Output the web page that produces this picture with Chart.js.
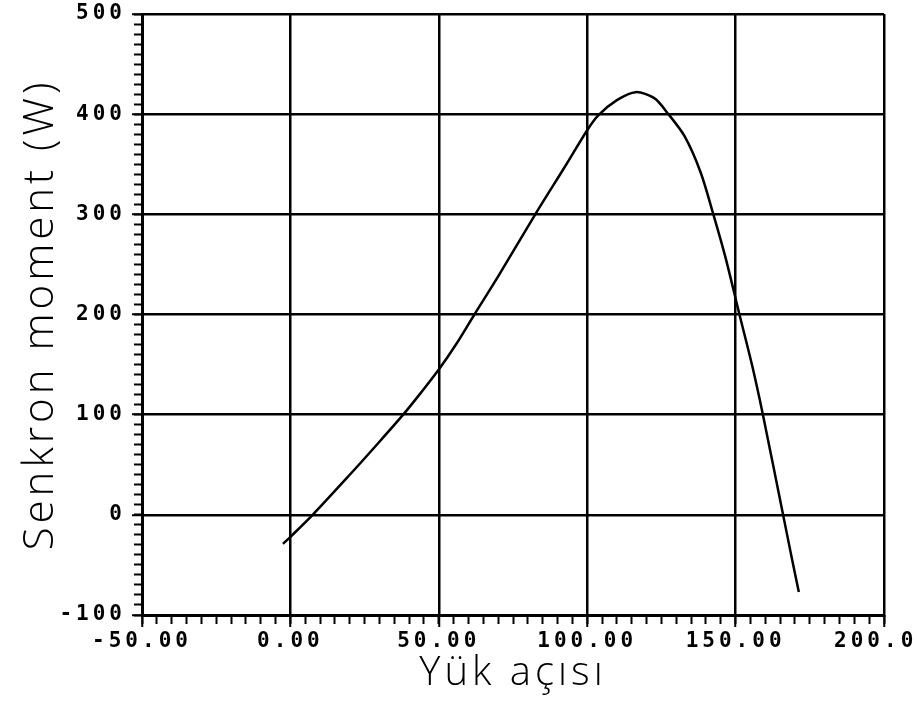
<!DOCTYPE html>
<html>
<head>
<meta charset="utf-8">
<script src="https://cdn.jsdelivr.net/npm/chart.js@4/dist/chart.umd.min.js"></script>
<style>
  html, body { margin: 0; background: #fff; }
</style>
</head>
<body>
<canvas id="moment-canvas" width="917" height="702"></canvas>
<script>
// points
const angle  = [-2.5, 0, 7.5, 20, 28.5, 38, 44, 50, 56, 62, 70, 82.5, 93, 100, 103.8, 110, 116.3, 122.6, 127.1, 132.8, 138.2, 142.5, 146.5, 151.3, 155.5, 159.2, 166, 169, 171.3];
const moment = [-29, -22, 0, 40, 68, 100, 122, 145, 171, 200, 238, 300, 350, 384, 399, 414, 422, 416, 401, 378, 342, 300, 258, 200, 150, 100, 0, -44, -77];

const xRange = [-50, 200];
const yRange = [-100, 500];
const xTitle = 'Yük açısı';
const yTitle = 'Senkron moment (W)';

const black = '#000';
const tickFont = { family: "'DejaVu Sans Mono', monospace", size: 21, weight: 'bold' };
const titleFamily = "'Open Sans', 'DejaVu Sans', sans-serif";

// plotter font is wide, so spread the letters a bit
const spacing = {
    id: 'spacing',
    beforeDraw(chart) { chart.ctx.letterSpacing = '4px'; }
};

const ctx = document.getElementById('moment-canvas').getContext('2d');
new Chart(ctx, {
    type: 'scatter',
    data: {
        datasets: [{
            data: angle.map((a, i) => ({ x: a, y: moment[i] })),
            xAxisID: 'x',
            yAxisID: 'y',
            showLine: true,
            borderColor: black,
            borderWidth: 2.5,
            pointRadius: 0,
            fill: false,
            tension: 0.3
        }]
    },
    options: {
        responsive: false,
        animation: false,
        layout: { padding: { top: 14, right: 33, left: 0, bottom: 0 } },
        plugins: { legend: { display: false }, tooltip: { enabled: false } },
        scales: {
            x: {
                type: 'linear', position: 'bottom', weight: 1,
                min: xRange[0], max: xRange[1],
                ticks: {
                    stepSize: 50, autoSkip: false, maxRotation: 0, color: black,
                    font: tickFont, padding: 2,
                    callback: v => Number(v).toFixed(2)
                },
                grid: { color: black, lineWidth: 2.5, tickLength: 12, tickWidth: 2 },
                border: { color: black, width: 3 },
                title: {
                    display: true, text: xTitle, color: black,
                    font: { family: titleFamily, size: 40, weight: 300 },
                    padding: { top: 0, bottom: 4 }
                },
                afterFit: s => { s.height = 87; s.paddingLeft = 0; s.paddingRight = 0; }
            },
            xMinor: {
                type: 'linear', position: 'bottom', weight: 0,
                min: xRange[0], max: xRange[1],
                ticks: { stepSize: 5, display: false, autoSkip: false },
                grid: { drawOnChartArea: false, color: black, tickLength: 9, tickWidth: 2 },
                border: { display: false },
                afterFit: s => { s.height = 0; s.paddingLeft = 0; s.paddingRight = 0; }
            },
            y: {
                type: 'linear', position: 'left', weight: 1,
                min: yRange[0], max: yRange[1],
                ticks: { stepSize: 100, color: black, font: tickFont, padding: 6 },
                grid: { color: black, lineWidth: 2.5, tickLength: 10, tickWidth: 2 },
                border: { color: black, width: 3 },
                title: {
                    display: true, text: yTitle, color: black,
                    font: { family: titleFamily, size: 42, weight: 300 },
                    padding: { top: 16, bottom: 0 }
                },
                afterFit: s => { s.width = 142; s.paddingTop = 0; s.paddingBottom = 0; }
            },
            yMinor: {
                type: 'linear', position: 'left', weight: 0,
                min: yRange[0], max: yRange[1],
                ticks: { stepSize: 10, display: false },
                grid: { drawOnChartArea: false, color: black, tickLength: 8, tickWidth: 2 },
                border: { display: false },
                afterFit: s => { s.width = 0; s.paddingTop = 0; s.paddingBottom = 0; }
            }
        }
    },
    plugins: [spacing]
});
</script>
</body>
</html>
